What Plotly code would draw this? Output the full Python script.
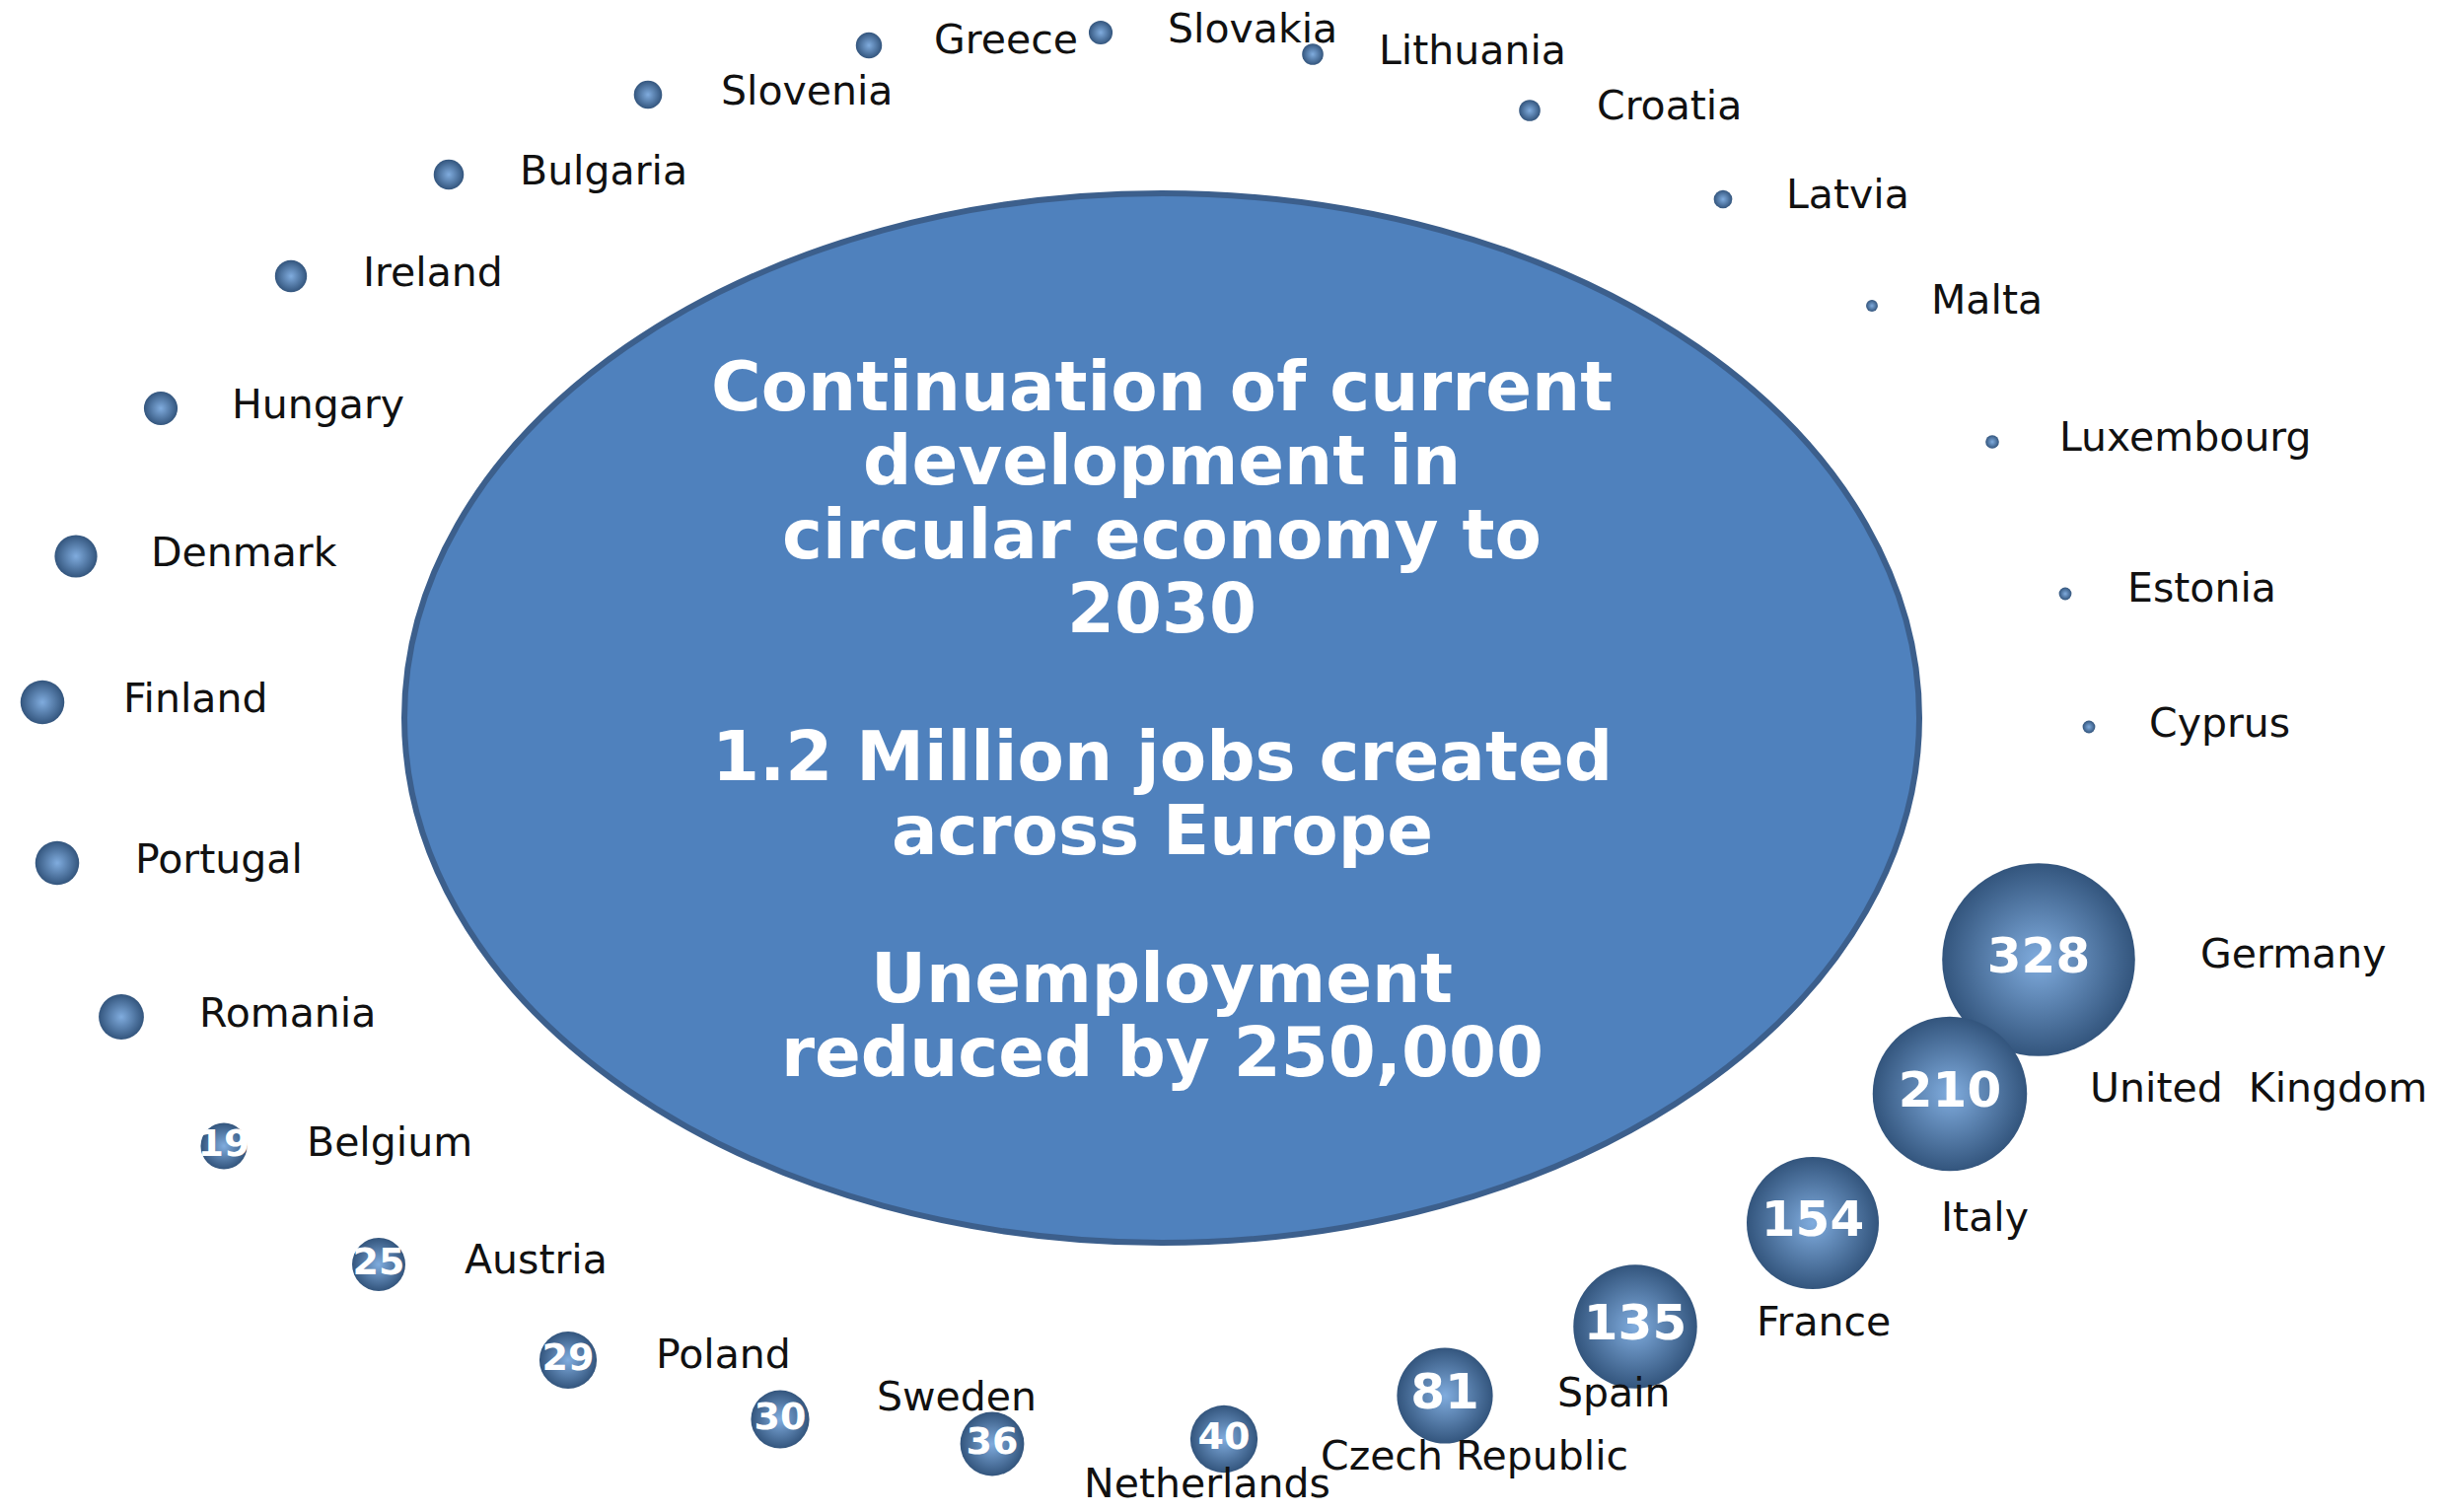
import numpy as np
import plotly.graph_objects as go

# ---- data ----
countries = ["Germany", "United  Kingdom", "Italy", "France", "Spain", "Czech Republic",
             "Netherlands", "Sweden", "Poland", "Austria", "Belgium", "Romania", "Portugal",
             "Finland", "Denmark", "Hungary", "Ireland", "Bulgaria", "Slovenia", "Greece",
             "Slovakia", "Lithuania", "Croatia", "Latvia", "Malta", "Luxembourg", "Estonia",
             "Cyprus"]
jobs_thousands = [328, 210, 154, 135, 81, 40, 36, 30, 29, 25, 19, 18, 17, 17, 16, 10, 9, 8,
                  7, 6, 5, 4, 4, 3, 1.2, 1.6, 1.4, 1.4]
show_value = [True] * 11 + [False] * 17

# bubble layout positions (canvas pixel units)
bubble_x = [2067, 1977, 1838, 1658, 1465, 1241, 1006, 791, 576, 384, 227, 123, 58, 43, 77,
            163, 295, 455, 657, 881, 1116, 1331, 1551, 1747, 1898, 2020, 2094, 2118]
bubble_y = [973, 1109, 1240, 1345, 1415, 1459, 1464, 1439, 1379, 1282, 1162, 1031, 875, 712,
            564, 414, 280, 177, 96, 46, 33, 55, 112, 202, 310, 448, 602, 737]
# country label positions (left edge of label)
label_x = [2231, 2119, 1968, 1781, 1579, 1339, 1099, 889, 665, 471, 311, 202, 137, 125, 153,
           235, 368, 527, 731, 947, 1184, 1398, 1619, 1811, 1958, 2088, 2157, 2179]
label_y = [971, 1107, 1238, 1344, 1416, 1480, 1508, 1420, 1377, 1281, 1162, 1031, 875, 712,
           564, 414, 280, 177, 96, 44, 33, 55, 111, 201, 308, 447, 600, 737]

center_lines = ["Continuation of current", "development in", "circular economy to", "2030", "",
                "1.2 Million jobs created", "across Europe", "", "Unemployment",
                "reduced by 250,000"]

W, H = 2476, 1533

fig = go.Figure()

# central ellipse
cx, cy, rx, ry = 1178, 728, 768, 532
fig.add_shape(type="circle", xref="x", yref="y", x0=cx - rx, x1=cx + rx, y0=cy - ry, y1=cy + ry,
              fillcolor="#4F81BD", line=dict(color="#3C5F8C", width=6), layer="below")

# central text, one annotation per line
line_gap = 75
for i, t in enumerate(center_lines):
    if not t:
        continue
    fig.add_annotation(x=cx, y=392 + i * line_gap, xref="x", yref="y", text=t, showarrow=False,
                       font=dict(family="DejaVu Sans", size=69, color="white", weight="bold"),
                       xanchor="center", yanchor="middle")

vals = np.array(jobs_thousands, dtype=float)
diam = np.sqrt(vals) * 10.8
num_text = [str(int(v)) if s else "" for v, s in zip(jobs_thousands, show_value)]
num_size = [50 if v >= 50 else 38 for v in jobs_thousands]

fig.add_trace(go.Scatter(
    x=bubble_x, y=bubble_y, mode="markers+text", text=num_text,
    textposition="middle center",
    textfont=dict(family="DejaVu Sans", size=num_size, color="white", weight="bold"),
    marker=dict(size=diam, sizemode="diameter", color="#33557D",
                gradient=dict(type="radial", color="#80ACDE"),
                line=dict(width=0), opacity=1),
    hoverinfo="skip", showlegend=False, cliponaxis=False))

fig.add_trace(go.Scatter(
    x=label_x, y=label_y, mode="text", text=countries, textposition="middle right",
    textfont=dict(family="DejaVu Sans", size=41, color="#111111"),
    hoverinfo="skip", showlegend=False, cliponaxis=False))

fig.update_xaxes(range=[0, W], visible=False, fixedrange=True)
fig.update_yaxes(range=[H, 0], visible=False, fixedrange=True)
fig.update_layout(width=W, height=H, margin=dict(l=0, r=0, t=0, b=0),
                  paper_bgcolor="white", plot_bgcolor="white", showlegend=False)

fig.write_html("out.html", config={"displayModeBar": False},
               post_script="document.body.style.margin='0';document.body.style.overflow='hidden';")
